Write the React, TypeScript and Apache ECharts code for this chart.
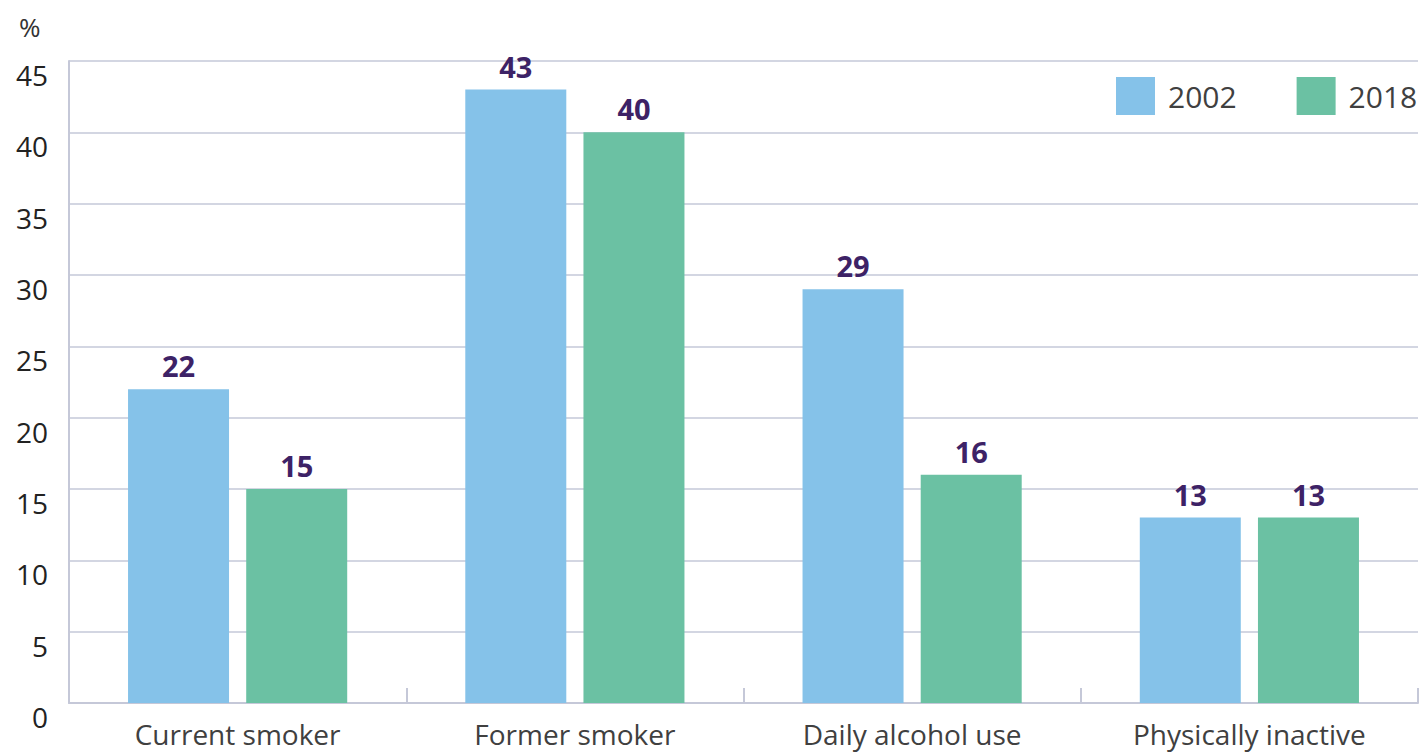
import React, { useEffect, useRef } from "react";
import * as echarts from "echarts";

const categories = ["Current smoker", "Former smoker", "Daily alcohol use", "Physically inactive"];
const values2002 = [22, 43, 29, 13];
const values2018 = [15, 40, 16, 13];
const seriesNames = ["2002", "2018"];

const FONT = "'Open Sans', Lato, sans-serif";

export default function App() {
  const ref = useRef<HTMLDivElement>(null);
  useEffect(() => {
    if (!ref.current) return;
    const chart = echarts.init(ref.current, undefined, { renderer: "svg" });
    const labelStyle = {
      show: true,
      position: "top" as const,
      distance: 9,
      color: "#3d2266",
      fontSize: 29,
      fontWeight: "bold" as const,
      fontFamily: FONT,
    };
    chart.setOption({
      animation: false,
      grid: { left: 69, right: 1, top: 61, bottom: 49, containLabel: false },
      legend: {
        data: seriesNames,
        left: 1116,
        top: 77,
        padding: 0,
        itemWidth: 39,
        itemHeight: 38,
        itemGap: 60,
        icon: "rect",
        textStyle: { color: "#404040", fontSize: 30, fontFamily: FONT, padding: [0, 0, 0, 8] },
      },
      graphic: [
        {
          type: "text",
          left: 19,
          top: 14,
          style: { text: "%", fontSize: 26, fill: "#333", fontFamily: FONT },
        },
      ],
      xAxis: {
        type: "category",
        data: categories,
        axisLine: { lineStyle: { color: "#c5c8d8", width: 2 } },
        axisTick: { show: true, inside: true, length: 15, lineStyle: { color: "#c5c8d8", width: 2 } },
        axisLabel: { color: "#404040", fontSize: 28, fontFamily: FONT, margin: 17 },
      },
      yAxis: {
        type: "value",
        min: 0,
        max: 45,
        interval: 5,
        axisLine: { show: true, lineStyle: { color: "#c5c8d8", width: 2 } },
        axisTick: { show: false },
        splitLine: { lineStyle: { color: "#c5c8d8", width: 1.5 } },
        axisLabel: { color: "#222", fontSize: 28, fontFamily: FONT, margin: 21, verticalAlign: "top" },
      },
      series: [
        {
          name: seriesNames[0],
          type: "bar",
          data: values2002,
          barWidth: 101,
          barGap: "17%",
          itemStyle: { color: "#85c2e9" },
          label: labelStyle,
        },
        {
          name: seriesNames[1],
          type: "bar",
          data: values2018,
          barWidth: 101,
          barGap: "17%",
          itemStyle: { color: "#6bc1a3" },
          label: labelStyle,
        },
      ],
    });
    return () => chart.dispose();
  }, []);
  return (
    <div
      ref={ref}
      style={{ position: "fixed", left: 0, top: 0, width: 1419, height: 752, background: "#fff" }}
    />
  );
}
